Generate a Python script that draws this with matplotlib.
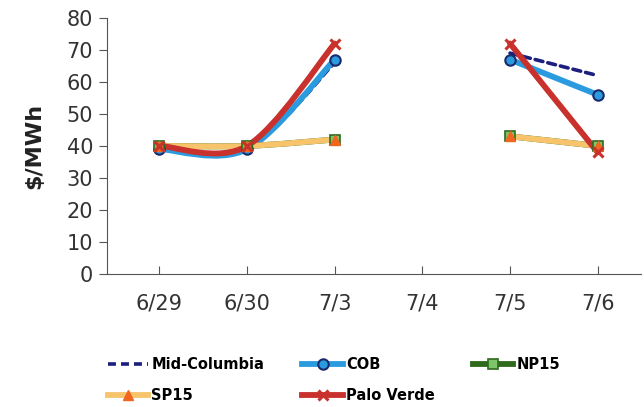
import numpy as np
import matplotlib
matplotlib.use("Agg")
import matplotlib.pyplot as plt
from matplotlib.path import Path
from matplotlib.patches import PathPatch
from matplotlib.lines import Line2D

# price data, $/MWh (7/4 has no trading)
dates = ["6/29", "6/30", "7/3", "7/4", "7/5", "7/6"]
mid_columbia = [39, 39, 66, np.nan, 69, 62]
cob = [39, 39, 67, np.nan, 67, 56]
np15 = [40, 40, 42, np.nan, 43, 40]
sp15 = [40, 40, 42, np.nan, 43, 40]
palo_verde = [40, 40, 72, np.nan, 72, 38]

series = [
    ("Mid-Columbia", mid_columbia, dict(color="#1b1f7e", ls=(0, (2.2, 1.4)), lw=2.6), dict(marker=None)),
    ("COB", cob, dict(color="#2b9be0", lw=4.2),
     dict(marker="o", ms=7.5, mfc="#2b9be0", mec="#1b2a6b", mew=1.5)),
    ("NP15", np15, dict(color="#2f6a1c", lw=4.2),
     dict(marker="s", ms=6.5, mfc="#7fc46a", mec="#2f6a1c", mew=1.2)),
    ("SP15", sp15, dict(color="#f7c46c", lw=4.2),
     dict(marker="^", ms=6.5, mfc="#f0661e", mec="#f0661e", mew=1)),
    ("Palo Verde", palo_verde, dict(color="#c8312c", lw=4.2),
     dict(marker="x", ms=6.5, mfc="#c8312c", mec="#c8312c", mew=2.2)),
]


def smooth_path(xs, ys):
    # excel-style smoothed line: bezier curve through each run of points
    verts, codes = [], []
    x = np.asarray(xs, float)
    y = np.asarray(ys, float)
    ok = ~np.isnan(y)
    runs, cur = [], []
    for i in range(len(y)):
        if ok[i]:
            cur.append(i)
        elif cur:
            runs.append(cur)
            cur = []
    if cur:
        runs.append(cur)
    for run in runs:
        px, py = x[run], y[run]
        n = len(run)
        verts.append((px[0], py[0]))
        codes.append(Path.MOVETO)
        for k in range(n - 1):
            a = max(k - 1, 0)
            b = min(k + 2, n - 1)
            c1 = (px[k] + (px[k + 1] - px[a]) / 6, py[k] + (py[k + 1] - py[a]) / 6)
            c2 = (px[k + 1] - (px[b] - px[k]) / 6, py[k + 1] - (py[b] - py[k]) / 6)
            verts += [c1, c2, (px[k + 1], py[k + 1])]
            codes += [Path.CURVE4] * 3
    return Path(verts, codes)


fig = plt.figure(figsize=(6.44, 4.07), dpi=100)
ax = fig.add_axes([0.166, 0.327, 0.83, 0.629])

xpos = np.arange(len(dates))
handles = []
for name, vals, lstyle, mstyle in series:
    patch = PathPatch(smooth_path(xpos, vals), fill=False, edgecolor=lstyle["color"],
                      lw=lstyle["lw"], linestyle=lstyle.get("ls", "-"),
                      capstyle="round", joinstyle="round")
    ax.add_patch(patch)
    if mstyle["marker"]:
        ax.plot(xpos, vals, ls="none", **mstyle)
    handles.append(Line2D([], [], color=lstyle["color"], lw=lstyle["lw"],
                          ls=lstyle.get("ls", "-"), **mstyle))

ax.set_xlim(-0.6, 5.5)
ax.set_ylim(0, 80)
ax.set_yticks(np.arange(0, 81, 10))
ax.set_xticks(xpos)
ax.set_xticklabels(dates)

for s in ["top", "right"]:
    ax.spines[s].set_visible(False)
ax.spines["left"].set_color("#555555")
ax.spines["bottom"].set_color("#555555")
ax.tick_params(axis="y", direction="out", length=6, color="#555555",
               labelsize=15, labelcolor="#333333", pad=4)
ax.tick_params(axis="x", direction="in", length=6, color="#555555",
               labelsize=15, labelcolor="#333333", pad=14)

ax.set_ylabel("$/MWh", fontsize=16, fontweight="bold", color="#222222", labelpad=16)

# legend fills column by column, so order items to read row by row
order = [0, 3, 1, 4, 2]
fig.legend(handles=[handles[i] for i in order],
           labels=[series[i][0] for i in order], ncol=3, loc="upper left",
           bbox_to_anchor=(0.158, 0.138), frameon=False,
           prop={"size": 10.5, "weight": "semibold"},
           handlelength=2.8, handletextpad=0.2, columnspacing=2.6,
           labelspacing=1.15, borderaxespad=0)

fig.savefig("out.png", dpi=100)
